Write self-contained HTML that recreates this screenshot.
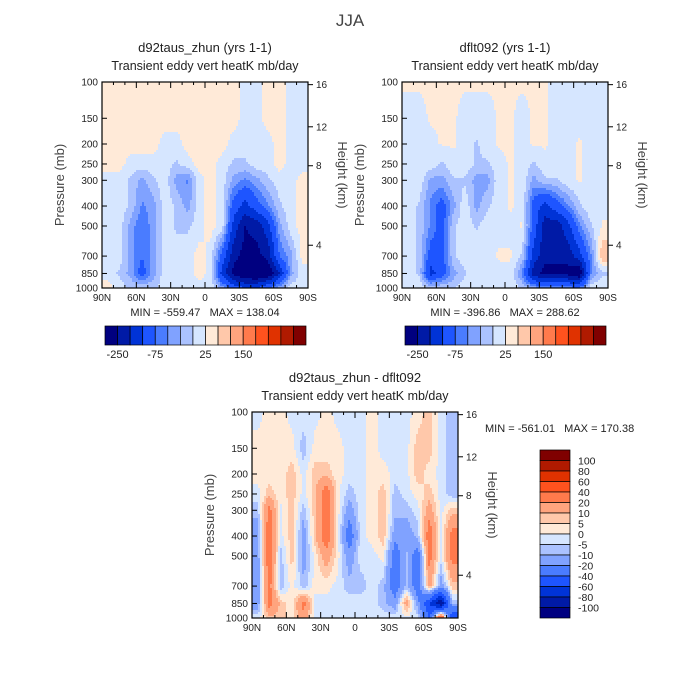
<!DOCTYPE html>
<html><head><meta charset="utf-8">
<style>
html,body{margin:0;padding:0;background:#fff;}
svg{display:block;font-family:"Liberation Sans",sans-serif;}
</style></head>
<body>
<svg id="chart" width="700" height="700" viewBox="0 0 700 700">
<text x="350" y="26" font-size="17" text-anchor="middle" fill="#444">JJA</text>
<g id="panels"></g>
</svg>
<script>
// ---- data ----
const levels = [100,150,200,250,300,400,500,700,850,1000];
const latLabels = ["90N","60N","30N","0","30S","60S","90S"];
const heightTicks = [16,12,8,4];
const heightTickP = [103,165,255,620];
const topThresholds = [-250,-200,-150,-100,-75,-50,-25,0,25,50,75,100,150,200,250];
const diffThresholds = [-100,-80,-60,-40,-20,-10,-5,0,5,10,20,40,60,80,100];
const colors = ["#000080","#001aa6","#0033d6","#1e55ff","#4a7cff","#80a2ff","#abc2ff","#d6e6ff",
                "#ffead8","#ffc8aa","#ffa47e","#ff7a4c","#ff521e","#e03200","#b01a00","#800000"];
const topBarLabels = ["-250","-75","25","150"];
const diffBarLabels = ["100","80","60","40","20","10","5","0","-5","-10","-20","-40","-60","-80","-100"];

const fieldA = [
 [10,10,10,10,10,10,10,10,10,10,10,10,-10,-10,10,10,-10,-10],
 [10,10,10,10,10,10,10,10,10,10,10,10,-10,-10,10,10,-10,-10],
 [10,10,10,10,10,-10,-10,10,10,10,10,-10,-10,-10,-10,10,-10,-10],
 [10,10,-10,-10,-10,-10,-30,-10,10,10,-10,-30,-30,-10,-10,10,-10,-10],
 [-10,-10,-30,-60,-30,-10,-60,-80,-10,10,-10,-60,-80,-60,-30,-10,-10,10],
 [-10,-10,-30,-80,-60,-10,-30,-60,-10,10,-10,-120,-170,-120,-80,-30,-10,10],
 [-10,-10,-60,-100,-60,-10,-30,-30,-10,10,-10,-170,-250,-230,-170,-60,-10,10],
 [-10,-10,-60,-100,-60,-10,-10,-10,10,-10,-120,-230,-270,-270,-230,-100,-60,10],
 [-10,-30,-60,-120,-60,-10,-10,-10,10,-10,-170,-270,-300,-320,-300,-200,-60,-10],
 [10,-10,-30,-30,-30,-10,-10,-10,-10,-10,-60,-120,-150,-150,-100,-60,-10,-10]
];
const fieldB = [
 [2,2,2,2,2,2,2,2,2,2,2,2,2,-5,-5,-5,-5,-5],
 [-5,-5,2,2,2,-5,-5,-5,2,2,-5,2,2,-5,-5,-5,-5,-5],
 [-5,-5,-5,2,2,-5,-30,-5,2,2,-5,2,2,-5,-5,2,-5,-5],
 [-5,-5,-5,-30,-5,-5,-30,-30,-5,2,-5,-30,-5,-5,-5,2,-5,-5],
 [-5,-5,-60,-60,-30,-30,-60,-60,-5,2,-5,-60,-30,-30,-5,2,-5,-5],
 [-5,-30,-80,-120,-60,-5,-60,-30,-5,2,-5,-120,-170,-120,-80,-30,-5,-5],
 [-5,-30,-80,-120,-30,-5,-30,-5,-5,-5,2,-120,-230,-230,-170,-80,-30,2],
 [-5,-30,-120,-120,-30,-5,-5,-5,2,2,-30,-170,-230,-230,-230,-170,-80,50],
 [-5,-30,-170,-120,-60,-30,-5,-5,-5,-5,-80,-230,-270,-270,-270,-300,-80,-30],
 [-5,-5,-30,-30,-30,-5,-5,-5,-5,-5,-30,-60,-80,-80,-80,-100,-5,-5]
];
const fieldD = [
 [-2,2,2,-2,-2,-2,2,-2,-2,-2,2,-2,-2,-2,2,8,-2,-8],
 [2,2,2,2,-8,2,2,2,-2,-2,2,-2,-2,-2,8,8,-2,-8],
 [2,2,2,8,-2,8,8,2,-2,-2,2,2,-2,-2,8,2,-2,-8],
 [-2,8,2,8,-2,8,30,2,-8,-2,2,8,-8,-2,2,8,-2,-8],
 [-8,25,-2,8,-8,8,30,2,-15,-2,2,8,-8,-8,-2,15,-2,8],
 [-15,30,-2,8,-15,8,30,2,-30,-2,2,8,-15,-15,-8,30,-2,25],
 [-15,30,-8,8,-15,2,15,2,-15,-2,-2,2,-30,-8,-30,25,-2,25],
 [-15,25,-8,2,-8,2,2,-2,-8,-8,-2,-8,-30,-8,-30,15,-15,8],
 [-15,25,8,2,25,-2,-2,-2,-2,-2,-2,-8,-15,15,-15,-60,-100,-8],
 [-2,8,8,2,15,-2,-2,-2,-2,-2,-2,-2,-2,-2,-2,-40,50,-60]
];

// ---- drawing ----
const NS = "http://www.w3.org/2000/svg";
const root = document.getElementById("panels");
function mk(tag, attrs, parent, text){
  const e = document.createElementNS(NS, tag);
  for (const k in attrs) e.setAttribute(k, attrs[k]);
  if (text !== undefined) e.textContent = text;
  (parent||root).appendChild(e);
  return e;
}
function binIndex(v, th){ let i=0; while(i<th.length && v>=th[i]) i++; return i; }

function drawPanel(x0, y0, field, th, title, minmax, name){
  const W = 206, H = 206;
  const yOf = p => y0 + H * Math.log(p/100)/Math.log(10);
  const g = mk("g", {});
  
  
  const ly = levels.map(yOf);
  const nc = field[0].length, cw = W/nc;
  const step = 2;
  for (let py = y0; py < y0+H; py += step){
    const yc = py + step/2;
    let r = 0; while (r < levels.length-2 && ly[r+1] < yc) r++;
    let ty = (yc - ly[r])/(ly[r+1]-ly[r]); ty = Math.max(0, Math.min(1, ty));
    let runStart = x0, runCol = null;
    for (let px = x0; px <= x0+W; px += step){
      let col = null;
      if (px < x0+W){
        const fc = (px + step/2 - x0)/cw - 0.5;
        let c = Math.floor(fc); let tx = fc - c;
        if (c < 0){ c = 0; tx = 0; }
        if (c >= nc-1){ c = nc-2; tx = 1; }
        const v = (1-ty)*((1-tx)*field[r][c] + tx*field[r][c+1]) + ty*((1-tx)*field[r+1][c] + tx*field[r+1][c+1]);
        col = colors[binIndex(v, th)];
      }
      if (col !== runCol){
        if (runCol !== null){
          const rc = mk("rect", {x: runStart, y: py, width: Math.min(px, x0+W)-runStart+0.5, height: Math.min(step+0.5, y0+H-py), fill: runCol}, g);
          
          
        }
        runStart = px; runCol = col;
      }
    }
  }
  const fr = mk("rect", {x:x0, y:y0, width:W, height:H, fill:"none", stroke:"#000", "stroke-width":1.2}, g);
  
  
  levels.forEach(p => {
    const y = yOf(p);
    mk("line", {x1:x0, x2:x0+5, y1:y, y2:y, stroke:"#000"}, g);
    const t = mk("text", {x:x0-4, y:y+3.5, "font-size":10, "text-anchor":"end", fill:"#222"}, g, String(p));
    
    
  });
  heightTicks.forEach((h,i) => {
    const y = yOf(heightTickP[i]);
    mk("line", {x1:x0+W, x2:x0+W+5, y1:y, y2:y, stroke:"#000"}, g);
    const t = mk("text", {x:x0+W+8, y:y+3.5, "font-size":10, fill:"#222"}, g, String(h));
    
    
  });
  for (let i=0;i<=18;i++){
    const x = x0 + i*W/18, major = i%3===0, len = major?6:3;
    mk("line", {x1:x, x2:x, y1:y0+H, y2:y0+H-len, stroke:"#000"}, g);
    mk("line", {x1:x, x2:x, y1:y0, y2:y0+len, stroke:"#000"}, g);
  }
  latLabels.forEach((s,i) => {
    const t = mk("text", {x:x0+i*W/6, y:y0+H+13, "font-size":10, "text-anchor":"middle", fill:"#222"}, g, s);
    
    
  });
  const t1 = mk("text", {x:x0+W/2, y:y0-30, "font-size":13, "text-anchor":"middle", fill:"#222"}, g, title);
  
  
  const t2 = mk("text", {x:x0+W/2, y:y0-12, "font-size":12.5, "text-anchor":"middle", fill:"#222"}, g, "Transient eddy vert heatK mb/day");
  
  
  const ya = mk("text", {transform:`translate(${x0-38},${y0+H/2}) rotate(-90)`, "font-size":13, "text-anchor":"middle", fill:"#444"}, g, "Pressure (mb)");
  
  
  const ry = mk("text", {transform:`translate(${x0+W+30},${y0+H/2-10}) rotate(90)`, "font-size":13, "text-anchor":"middle", fill:"#444"}, g, "Height (km)");
  
  
  if (minmax){
    const m = mk("text", {x:x0+W/2, y:y0+H+28, "font-size":11, "text-anchor":"middle", fill:"#222"}, g, minmax);
    
    
  }
}

function hColorbar(x0, y0){
  const W = 201, H = 19, n = colors.length, bw = W/n;
  const g = mk("g", {});
  
  
  colors.forEach((c,i) => {
    const r = mk("rect", {x:x0+i*bw, y:y0, width:bw, height:H, fill:c, stroke:"#000", "stroke-width":0.7}, g);
    
    
  });
  const pos = [1,4,8,11];
  topBarLabels.forEach((s,i) => {
    const t = mk("text", {x:x0+pos[i]*bw, y:y0+H+13, "font-size":11, "text-anchor":"middle", fill:"#222"}, g, s);
    
    
  });
}

function vColorbar(x0, y0){
  const W = 30, H = 168, n = colors.length, bh = H/n;
  const g = mk("g", {});
  
  
  for (let i=0;i<n;i++){
    const r = mk("rect", {x:x0, y:y0+i*bh, width:W, height:bh, fill:colors[n-1-i], stroke:"#000", "stroke-width":0.7}, g);
    
    
  }
  diffBarLabels.forEach((s,i) => {
    const t = mk("text", {x:x0+W+8, y:y0+(i+1)*bh+4, "font-size":10.5, fill:"#222"}, g, s);
    
    
  });
}

const SP = "\u00a0\u00a0\u00a0";
drawPanel(102, 82, fieldA, topThresholds, "d92taus_zhun (yrs 1-1)", "MIN = -559.47" + SP + "MAX = 138.04", "panel-d92taus");
drawPanel(402, 82, fieldB, topThresholds, "dflt092 (yrs 1-1)", "MIN = -396.86" + SP + "MAX = 288.62", "panel-dflt092");
drawPanel(252, 412, fieldD, diffThresholds, "d92taus_zhun - dflt092", null, "panel-difference");
hColorbar(105, 326);
hColorbar(405, 326);
vColorbar(540, 450);
const mm = mk("text", {x:485, y:432, "font-size":11, fill:"#222"}, root, "MIN = -561.01" + SP + "MAX = 170.38");


</script>
</body></html>
